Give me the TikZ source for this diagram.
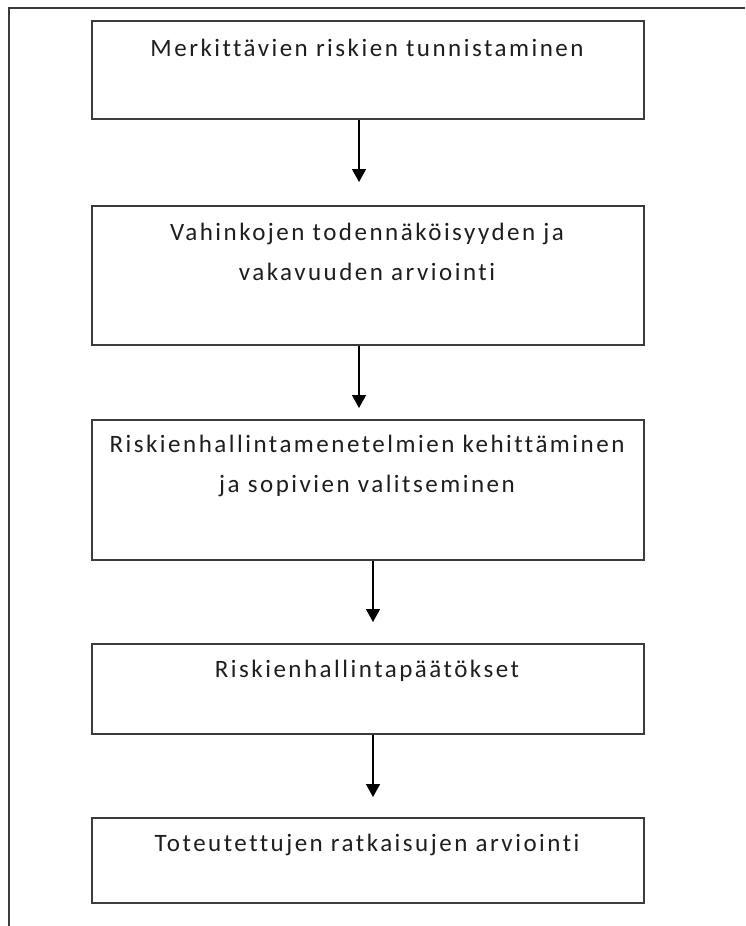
\documentclass[tikz,border=0pt]{standalone}
\usepackage{fontspec}
\setmainfont{Carlito}[LetterSpace=10, Ligatures={NoCommon, NoRare}]
\usetikzlibrary{arrows.meta}
\definecolor{framecol}{HTML}{3C3C3C}
\definecolor{textcol}{HTML}{1E1E1E}
\begin{document}
\begin{tikzpicture}[x=1pt,y=-1pt,
  box/.style={draw=framecol, line width=1.6pt, minimum width=552pt, inner sep=0pt, anchor=north west},
  lbl/.style={font=\fontsize{25}{40}\selectfont, text=textcol, align=center, inner sep=0pt},
  arr/.style={line width=1.4pt, draw=black, -{Triangle[width=14pt,length=13pt]}}]
\useasboundingbox (0,0) rectangle (745,926);
\draw[draw=framecol, line width=1.5pt] (9,926) -- (9,8) -- (745,8);
\node[box, minimum height=98pt]  (b1) at (91,20) {};
\node[box, minimum height=139pt] (b2) at (91,205) {};
\node[box, minimum height=140pt] (b3) at (91,419) {};
\node[box, minimum height=90pt]  (b4) at (91,643) {};
\node[box, minimum height=85pt]  (b5) at (91,817) {};
\node[lbl] (t1) at (367,48) {Merkittävien riskien tunnistaminen};
\node[lbl] (t2) at (367,252) {Vahinkojen todennäköisyyden ja\\vakavuuden arviointi};
\node[lbl] (t3) at (367,466) {Riskienhallintamenetelmien kehittäminen\\ja sopivien valitseminen};
\node[lbl] (t4) at (367,671) {Riskienhallintapäätökset};
\node[lbl] (t5) at (367,845) {Toteutettujen ratkaisujen arviointi};
\coordinate (a1) at (359,182);
\coordinate (a2) at (359,408);
\coordinate (a3) at (373,622);
\coordinate (a4) at (373,797);
\draw[arr] (b1.south -| a1) -- (a1);
\draw[arr] (b2.south -| a2) -- (a2);
\draw[arr] (b3.south -| a3) -- (a3);
\draw[arr] (b4.south -| a4) -- (a4);
\end{tikzpicture}
\end{document}
